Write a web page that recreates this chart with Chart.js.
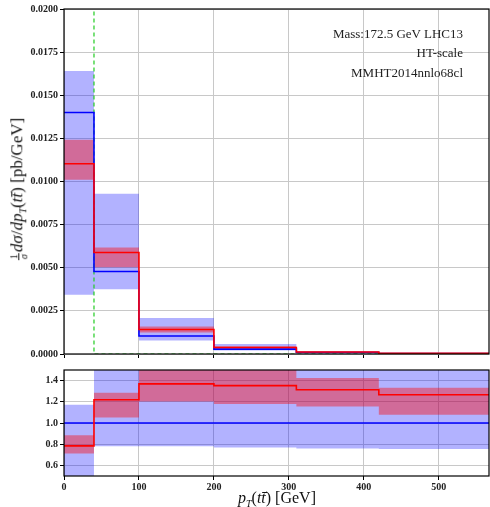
<!DOCTYPE html>
<html>
<head>
<meta charset="utf-8">
<script src="https://cdn.jsdelivr.net/npm/chart.js@4"></script>
<style>
  body { margin: 0; background: #fff; width: 490px; height: 507px; overflow: hidden; position: relative; font-family: "Liberation Serif", serif; }
  canvas { position: absolute; left: 0; }
  #top { top: 0; }
  #bot { top: 360px; }
  .note { position: absolute; right: 27px; font-size: 13px; color: #222; text-align: right; white-space: nowrap; }
  #ylab { position: absolute; left: 18px; top: 189px; transform: translate(-50%, -50%) rotate(-90deg); font-size: 17px; white-space: nowrap; color: #111; }
  #xlab { position: absolute; left: 277px; top: 499px; transform: translate(-50%, -50%); font-size: 16px; white-space: nowrap; color: #111; }
  .frac { display: inline-flex; flex-direction: column; align-items: center; font-size: 10px; line-height: 9px; vertical-align: middle; margin-right: 1px; }
  .frac span:first-child { border-bottom: 1px solid #111; padding: 0 1px; }
  sub { font-size: 10px; }
</style>
</head>
<body>
<canvas id="top" width="490" height="365"></canvas>
<canvas id="bot" width="490" height="147"></canvas>
<div class="note" style="top:26px">Mass:172.5 GeV LHC13</div>
<div class="note" style="top:45px">HT-scale</div>
<div class="note" style="top:65px">MMHT2014nnlo68cl</div>
<div id="ylab"><span class="frac"><span>1</span><span><i>σ</i></span></span><i>dσ</i>/<i>dp<sub>T</sub></i>(<i>tt̄</i>) [pb/GeV]</div>
<div id="xlab"><i>p<sub>T</sub></i>(<i>tt̄</i>) [GeV]</div>
<script>
// bin edges in pT [GeV]
const binEdges = [0, 40, 100, 200, 310, 420, 600];

// distribution, pb/GeV
const blueVals  = [0.0140, 0.00478, 0.00104, 0.00028, 0.000090, 0.000030];
const blueLo    = [0.00343, 0.00376, 0.00078, 0.00021, 0.000068, 0.000023];
const blueHi    = [0.01641, 0.00929, 0.00209, 0.00058, 0.000180, 0.000060];
const redVals   = [0.01103, 0.00588, 0.00142, 0.00038, 0.000118, 0.000038];
const redLo     = [0.01010, 0.00503, 0.00124, 0.00033, 0.000104, 0.000032];
const redHi     = [0.01242, 0.00617, 0.00160, 0.00045, 0.000128, 0.000040];

// ratio to the blue curve
const ratioBlue   = [1.0, 1.0, 1.0, 1.0, 1.0, 1.0];
const ratioBlueLo = [0.25, 0.78, 0.78, 0.77, 0.76, 0.755];
const ratioBlueHi = [1.172, 1.94, 2.01, 2.07, 2.0, 2.0];
const ratioRed    = [0.784, 1.219, 1.369, 1.353, 1.313, 1.266];
const ratioRedLo  = [0.713, 1.053, 1.203, 1.18, 1.155, 1.079];
const ratioRedHi  = [0.885, 1.285, 1.58, 1.6, 1.425, 1.332];

// green dashed marker (step at 40 GeV)
const markX = [40, 40, 600];
const markY = [0.03, 0, 0];

const xTicks = [0, 100, 200, 300, 400, 500];
const yTicksTop = [0, 0.0025, 0.005, 0.0075, 0.01, 0.0125, 0.015, 0.0175, 0.02];
const yTicksBot = [0.6, 0.8, 1.0, 1.2, 1.4];

const BLUE = '#0000ff', RED = '#ff0000';
const BAND_BLUE = 'rgba(0,0,255,0.3)', BAND_RED = 'rgba(255,0,0,0.4)';
const GRID = '#c8c8c8';
const TICK_FONT = { family: 'Liberation Serif', size: 10, weight: 'bold' };

function steps(vals) {
  return binEdges.map((x, i) => ({ x, y: vals[Math.min(i, vals.length - 1)] }));
}

// 'before' keeps each value flat until the next edge
function lineDs(vals, color, order) {
  return { data: steps(vals), stepped: 'before', borderColor: color, borderWidth: 1.6,
           pointRadius: 0, fill: false, order };
}
function bandDs(lo, hi, color, order) {
  return [
    { data: steps(lo), stepped: 'before', borderWidth: 0, pointRadius: 0, fill: false, order: order + 1 },
    { data: steps(hi), stepped: 'before', borderWidth: 0, pointRadius: 0, fill: '-1', backgroundColor: color, order }
  ];
}

const frame = {
  id: 'frame',
  afterDraw(chart) {
    const a = chart.chartArea, ctx = chart.ctx;
    ctx.save();
    ctx.strokeStyle = '#000';
    ctx.lineWidth = 1.2;
    ctx.strokeRect(a.left, a.top, a.right - a.left, a.bottom - a.top);
    ctx.restore();
  }
};

function xScale(showLabels, h) {
  return {
    type: 'linear', min: 0, max: 567,
    afterBuildTicks: s => { s.ticks = xTicks.map(v => ({ value: v })); },
    afterFit: s => { s.height = h; },
    border: { display: false },
    grid: { color: GRID, lineWidth: 1, tickColor: '#000', tickLength: 4 },
    ticks: { display: showLabels, color: '#222', font: TICK_FONT, padding: 1, maxRotation: 0 }
  };
}
function yScale(min, max, ticks, digits) {
  return {
    min, max,
    afterBuildTicks: s => { s.ticks = ticks.map(v => ({ value: v })); },
    afterFit: s => { s.width = 64; },
    border: { display: false },
    grid: { color: GRID, lineWidth: 1, tickColor: '#000', tickLength: 4 },
    ticks: { color: '#222', font: TICK_FONT, padding: 2, callback: v => Number(v).toFixed(digits) }
  };
}

const common = {
  responsive: false, animation: false,
  plugins: { legend: { display: false }, tooltip: { enabled: false } }
};

new Chart(document.getElementById('top'), {
  type: 'line',
  data: {
    datasets: [
      ...bandDs(blueLo, blueHi, BAND_BLUE, 10),
      ...bandDs(redLo, redHi, BAND_RED, 8),
      { data: markX.map((x, i) => ({ x, y: markY[i] })), borderColor: '#22cc22', borderWidth: 1.2,
        borderDash: [4, 3], pointRadius: 0, fill: false, order: 3 },
      lineDs(blueVals, BLUE, 2),
      lineDs(redVals, RED, 1)
    ]
  },
  options: {
    ...common,
    layout: { padding: { top: 9, right: 1, left: 0, bottom: 0 } },
    scales: { x: xScale(false, 11), y: yScale(0, 0.02, yTicksTop, 4) }
  },
  plugins: [frame]
});

new Chart(document.getElementById('bot'), {
  type: 'line',
  data: {
    datasets: [
      ...bandDs(ratioBlueLo, ratioBlueHi, BAND_BLUE, 10),
      ...bandDs(ratioRedLo, ratioRedHi, BAND_RED, 8),
      lineDs(ratioBlue, BLUE, 2),
      lineDs(ratioRed, RED, 1)
    ]
  },
  options: {
    ...common,
    layout: { padding: { top: 10, right: 1, left: 0, bottom: 0 } },
    scales: { x: xScale(true, 31), y: yScale(0.5, 1.5, yTicksBot, 1) }
  },
  plugins: [frame]
});
</script>
</body>
</html>
